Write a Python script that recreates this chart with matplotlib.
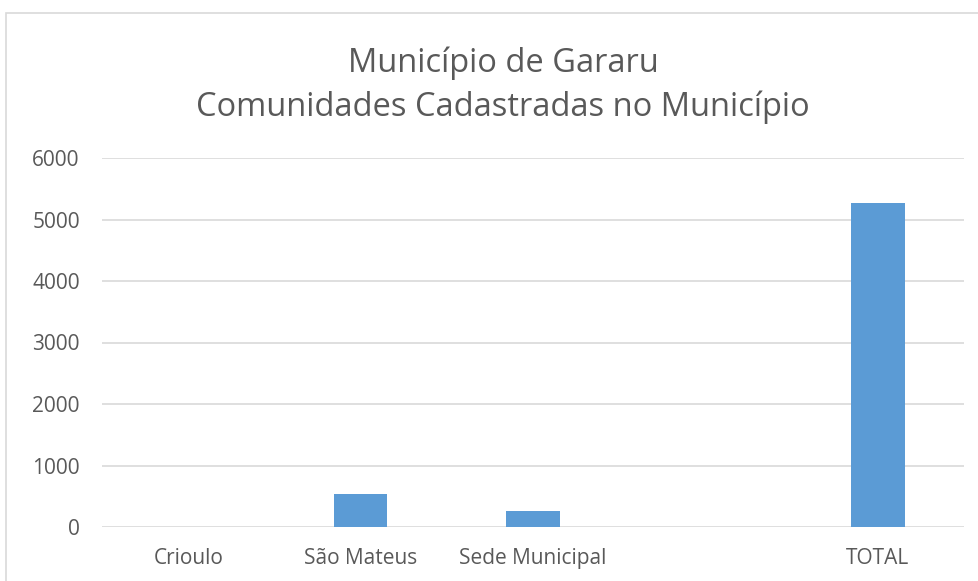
import matplotlib.pyplot as plt
from matplotlib.patches import Rectangle

categories = ['Crioulo', 'São Mateus', 'Sede Municipal', '', 'TOTAL']
values = [0, 537, 265, 0, 5273]
yticks = [0, 1000, 2000, 3000, 4000, 5000, 6000]

plt.rcParams['font.family'] = ['Open Sans', 'DejaVu Sans']
gray = '#595959'

fig = plt.figure(figsize=(9.79, 5.81), dpi=100)
W, H = 979, 581
ax = fig.add_axes([102 / W, 1 - 527 / H, 862 / W, 369 / H])

x = range(len(categories))
ax.bar(x, values, width=0.31, color='#5b9bd5', zorder=3)

ax.set_xlim(-0.5, len(categories) - 0.5)
ax.set_ylim(0, 6000)
ax.set_yticks(yticks)
ax.set_yticklabels([str(v) for v in yticks], fontsize=15, color=gray)
ax.set_xticks(list(x))
ax.set_xticklabels(categories, fontsize=15, color=gray)
ax.tick_params(axis='both', length=0)
ax.tick_params(axis='y', pad=16)
ax.tick_params(axis='x', pad=15)
ax.grid(axis='y', color='#d9d9d9', linewidth=1.2, zorder=0)
for s in ax.spines.values():
    s.set_visible(False)

fig.text(503 / W, 1 - 63 / H, 'Município de Gararu', ha='center', va='center',
         fontsize=23.5, color=gray)
fig.text(503 / W, 1 - 107 / H, 'Comunidades Cadastradas no Município', ha='center',
         va='center', fontsize=23.5, color=gray)

# outer chart frame (runs off the right and bottom edge)
fig.patches.append(Rectangle((6 / W, -0.1), 1.1, 1 - 13 / H + 0.1,
                             transform=fig.transFigure, fill=False,
                             edgecolor='#d9d9d9', linewidth=1.2))

fig.savefig('out.png', dpi=100, facecolor='white')
